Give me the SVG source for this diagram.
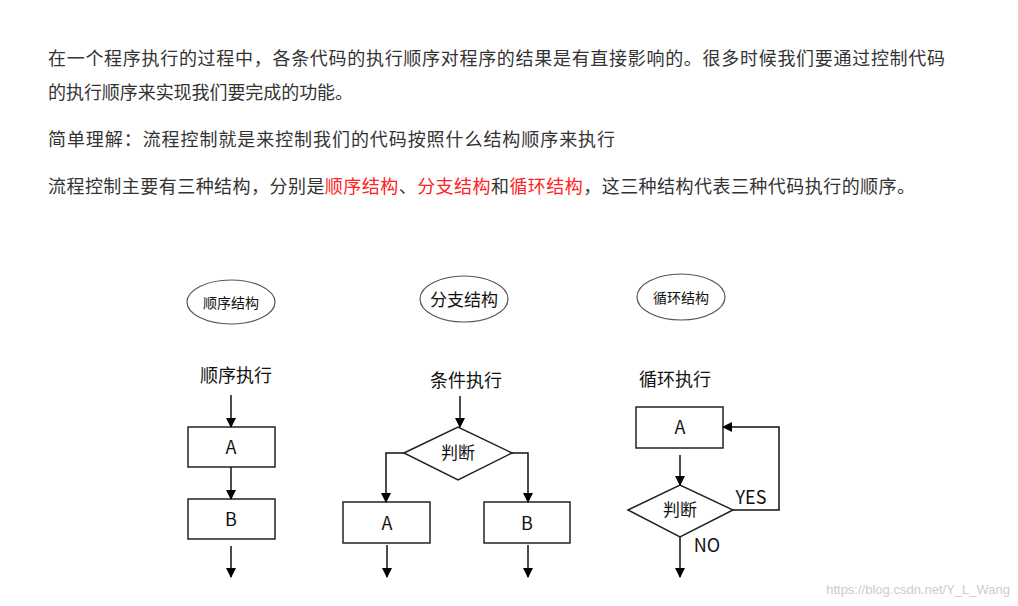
<svg xmlns="http://www.w3.org/2000/svg" width="1018" height="606" viewBox="0 0 1018 606">
<defs>
<marker id="ah" markerWidth="10" markerHeight="10" refX="9" refY="5" orient="auto" markerUnits="userSpaceOnUse"><path d="M0,0 L10,5 L0,10 Z" fill="#000"/></marker>
<style>
.p{font-family:"Noto Sans CJK SC","Liberation Sans",sans-serif;font-size:18px;fill:#333}
.r{fill:#f22}
.t{font-family:"Noto Sans CJK SC","Liberation Sans",sans-serif;fill:#111;text-anchor:middle}
.s{fill:#fff;stroke:#222;stroke-width:1.5}
.e{fill:#fff;stroke:#555;stroke-width:1.2}
.c{fill:none;stroke:#111;stroke-width:1.5}
</style>
</defs>
<rect width="1018" height="606" fill="#fff"/>
<text class="p" x="48" y="65" textLength="897" lengthAdjust="spacing">在一个程序执行的过程中，各条代码的执行顺序对程序的结果是有直接影响的。很多时候我们要通过控制代码</text>
<text class="p" x="48" y="99" textLength="305" lengthAdjust="spacing">的执行顺序来实现我们要完成的功能。</text>
<text class="p" x="48" y="146" textLength="567" lengthAdjust="spacing">简单理解：流程控制就是来控制我们的代码按照什么结构顺序来执行</text>
<text class="p" x="48" y="193" textLength="867" lengthAdjust="spacing">流程控制主要有三种结构，分别是<tspan class="r">顺序结构</tspan>、<tspan class="r">分支结构</tspan>和<tspan class="r">循环结构</tspan>，这三种结构代表三种代码执行的顺序。</text>

<g id="seq-title"><ellipse class="e" cx="231" cy="302" rx="44" ry="22"/><text class="t" x="231" y="308" font-size="14">顺序结构</text></g>
<g id="br-title"><ellipse class="e" cx="464" cy="299" rx="44" ry="23"/><text class="t" x="464" y="306" font-size="17">分支结构</text></g>
<g id="lp-title"><ellipse class="e" cx="681" cy="297" rx="44" ry="23"/><text class="t" x="681" y="303" font-size="14">循环结构</text></g>

<g id="seq-label"><text class="t" x="236" y="382" font-size="18">顺序执行</text></g>
<g id="br-label"><text class="t" x="466" y="387" font-size="18">条件执行</text></g>
<g id="lp-label"><text class="t" x="675" y="386" font-size="18">循环执行</text></g>

<g id="seq-a"><rect class="s" x="188" y="427" width="87" height="40"/><text class="t" x="231" y="454" font-size="18">A</text></g>
<g id="seq-b"><rect class="s" x="188" y="499" width="87" height="40"/><text class="t" x="231" y="526" font-size="18">B</text></g>

<g id="br-cond"><polygon class="s" points="404,453 458,427 512,453 458,480"/><text class="t" x="458" y="459" font-size="17">判断</text></g>
<g id="br-a"><rect class="s" x="343" y="502" width="87" height="41"/><text class="t" x="387" y="530" font-size="18">A</text></g>
<g id="br-b"><rect class="s" x="484" y="502" width="86" height="41"/><text class="t" x="527" y="530" font-size="18">B</text></g>

<g id="lp-a"><rect class="s" x="636" y="407" width="87" height="41"/><text class="t" x="680" y="434" font-size="18">A</text></g>
<g id="lp-cond"><polygon class="s" points="628,510 680,485 733,510 680,537"/><text class="t" x="680" y="516" font-size="17">判断</text></g>

<g id="connectors">
<line class="c" x1="231" y1="395" x2="231" y2="427" marker-end="url(#ah)"/>
<line class="c" x1="231" y1="467" x2="231" y2="499" marker-end="url(#ah)"/>
<line class="c" x1="231" y1="546" x2="231" y2="577" marker-end="url(#ah)"/>
<line class="c" x1="460" y1="396" x2="460" y2="427" marker-end="url(#ah)"/>
<polyline class="c" points="404,453 386,453 386,502" marker-end="url(#ah)"/>
<polyline class="c" points="512,453 528,453 528,502" marker-end="url(#ah)"/>
<line class="c" x1="387" y1="545" x2="387" y2="577" marker-end="url(#ah)"/>
<line class="c" x1="528" y1="545" x2="528" y2="577" marker-end="url(#ah)"/>
<line class="c" x1="680" y1="455" x2="680" y2="485" marker-end="url(#ah)"/>
<polyline class="c" points="733,510 779,510 779,427 723,427" marker-end="url(#ah)"/>
<line class="c" x1="680" y1="537" x2="680" y2="577" marker-end="url(#ah)"/>
<text class="t" x="751" y="504" font-size="18">YES</text>
<text class="t" x="707" y="552" font-size="18">NO</text>
</g>
<text x="1010" y="594" text-anchor="end" font-family="Liberation Sans,sans-serif" font-size="13" fill="#ccc">https://blog.csdn.net/Y_L_Wang</text>
</svg>
